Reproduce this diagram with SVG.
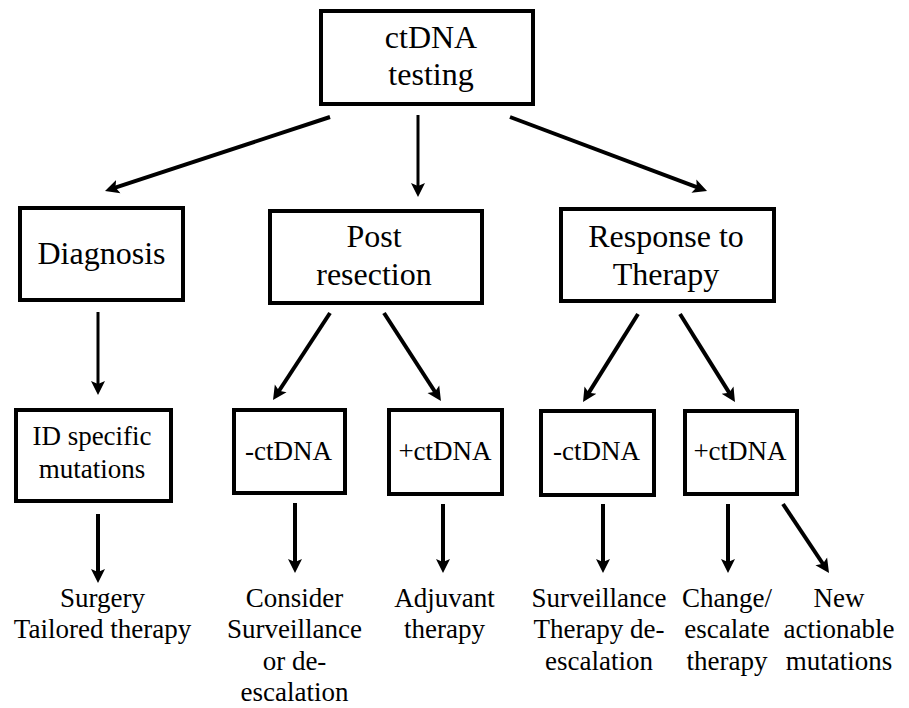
<svg xmlns="http://www.w3.org/2000/svg" width="909" height="708" viewBox="0 0 909 708">
  <style>
    .box { fill: #ffffff; stroke: #000000; stroke-width: 4; }
    .lbl { font-family: "Liberation Serif", "Times New Roman", serif; fill: #000000; text-anchor: middle; }
    .big { font-size: 32px; }
    .sm { font-size: 27px; }
    .arr { stroke: #000000; stroke-width: 4; fill: none; marker-end: url(#ah); }
    .thin { stroke-width: 3; }
  </style>
  <defs>
    <marker id="ah" viewBox="0 -8 16 16" markerWidth="16" markerHeight="16" refX="8" refY="0" orient="auto" markerUnits="userSpaceOnUse">
      <path d="M0,-7 L14,0 L0,7 L3,0 Z" fill="#000000"/>
    </marker>
  </defs>
  <rect width="909" height="708" fill="#ffffff"/>

  <g id="connectors">
    <line class="arr" x1="330" y1="117" x2="110.7" y2="189.1"/>
    <line class="arr thin" x1="418" y1="115" x2="418" y2="191"/>
    <line class="arr" x1="510" y1="117" x2="701.4" y2="188.9"/>
    <line class="arr thin" x1="98" y1="312" x2="98" y2="389"/>
    <line class="arr" x1="330" y1="313" x2="276.3" y2="395"/>
    <line class="arr" x1="384" y1="313" x2="437.7" y2="396"/>
    <line class="arr" x1="638" y1="314" x2="586.2" y2="396.9"/>
    <line class="arr" x1="680" y1="314" x2="731.8" y2="396.9"/>
    <line class="arr" x1="98" y1="514" x2="98" y2="577"/>
    <line class="arr" x1="295" y1="503" x2="295" y2="567"/>
    <line class="arr" x1="443" y1="504" x2="443" y2="567"/>
    <line class="arr" x1="603" y1="504" x2="603" y2="567"/>
    <line class="arr" x1="728" y1="504" x2="728" y2="567"/>
    <line class="arr" x1="783" y1="504" x2="825.7" y2="568"/>
  </g>

  <g id="node-ctdna-testing">
    <rect class="box" x="321" y="11" width="212" height="93"/>
    <text class="lbl big" x="431" y="48">ctDNA</text>
    <text class="lbl big" x="431" y="85">testing</text>
  </g>
  <g id="node-diagnosis">
    <rect class="box" x="20" y="208" width="163" height="92"/>
    <text class="lbl big" x="101.5" y="264">Diagnosis</text>
  </g>
  <g id="node-post-resection">
    <rect class="box" x="270" y="211" width="212" height="92"/>
    <text class="lbl big" x="374" y="247">Post</text>
    <text class="lbl big" x="374" y="285">resection</text>
  </g>
  <g id="node-response">
    <rect class="box" x="561" y="209" width="213" height="92"/>
    <text class="lbl big" x="666" y="247">Response to</text>
    <text class="lbl big" x="666" y="285">Therapy</text>
  </g>
  <g id="node-id-specific">
    <rect class="box" x="16" y="410" width="155" height="91"/>
    <text class="lbl sm" x="92" y="445">ID specific</text>
    <text class="lbl sm" x="92" y="478">mutations</text>
  </g>
  <g id="node-post-neg">
    <rect class="box" x="234" y="410" width="111" height="83"/>
    <text class="lbl sm" x="288.5" y="460">-ctDNA</text>
  </g>
  <g id="node-post-pos">
    <rect class="box" x="389" y="410" width="113" height="84"/>
    <text class="lbl sm" x="445" y="460">+ctDNA</text>
  </g>
  <g id="node-resp-neg">
    <rect class="box" x="541" y="411" width="113" height="84"/>
    <text class="lbl sm" x="596.5" y="460">-ctDNA</text>
  </g>
  <g id="node-resp-pos">
    <rect class="box" x="685" y="411" width="112" height="83"/>
    <text class="lbl sm" x="740" y="460">+ctDNA</text>
  </g>

  <g id="node-surgery">
    <text class="lbl sm" x="102.5" y="607">Surgery</text>
    <text class="lbl sm" x="102.5" y="638">Tailored therapy</text>
  </g>
  <g id="node-consider">
    <text class="lbl sm" x="294.5" y="607">Consider</text>
    <text class="lbl sm" x="294.5" y="638">Surveillance</text>
    <text class="lbl sm" x="294.5" y="670">or de-</text>
    <text class="lbl sm" x="294.5" y="701">escalation</text>
  </g>
  <g id="node-adjuvant">
    <text class="lbl sm" x="444.5" y="607">Adjuvant</text>
    <text class="lbl sm" x="444.5" y="638">therapy</text>
  </g>
  <g id="node-surveillance">
    <text class="lbl sm" x="599" y="607">Surveillance</text>
    <text class="lbl sm" x="599" y="638">Therapy de-</text>
    <text class="lbl sm" x="599" y="670">escalation</text>
  </g>
  <g id="node-change">
    <text class="lbl sm" x="727" y="607">Change/</text>
    <text class="lbl sm" x="727" y="638">escalate</text>
    <text class="lbl sm" x="727" y="670">therapy</text>
  </g>
  <g id="node-new">
    <text class="lbl sm" x="839" y="607">New</text>
    <text class="lbl sm" x="839" y="638">actionable</text>
    <text class="lbl sm" x="839" y="670">mutations</text>
  </g>
</svg>
